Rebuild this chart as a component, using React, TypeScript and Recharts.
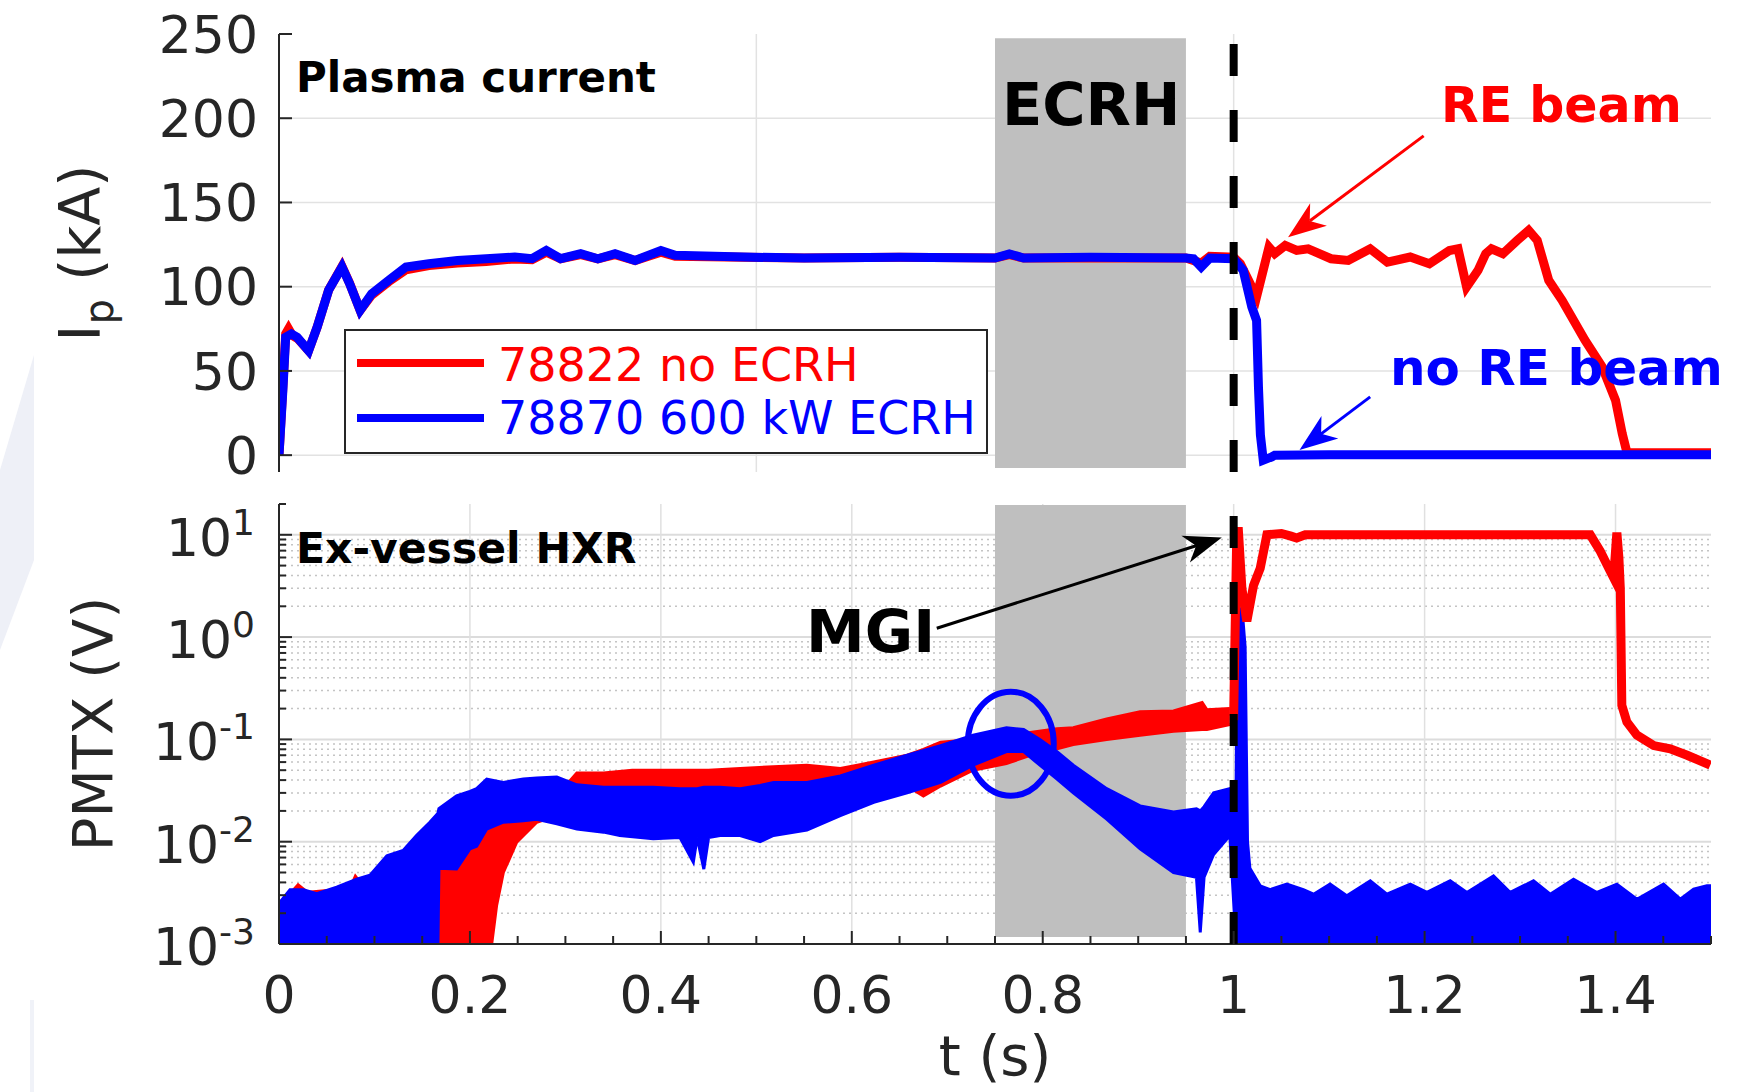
import React from 'react';
import { Area, ComposedChart, Line, ReferenceArea, ReferenceDot, ReferenceLine, XAxis, YAxis } from 'recharts';

const FONT = '"DejaVu Sans", sans-serif';
const RED = '#ff0000';
const BLUE = '#0000ff';
const INK = '#262626';

// plasma current Ip (kA) vs t (s)
const ipRed: number[][] = [
  [0, 0], [0.004, 40], [0.007, 72], [0.01, 75], [0.014, 71], [0.02, 69], [0.031, 62], [0.04, 76],
  [0.052, 98], [0.066, 112], [0.074, 102], [0.085, 86], [0.097, 95], [0.115, 103], [0.133, 110],
  [0.157, 112.5], [0.187, 114], [0.217, 115], [0.247, 116.5], [0.265, 116], [0.28, 120.5], [0.295, 116.5],
  [0.316, 119], [0.334, 116.5], [0.352, 119], [0.373, 115.5], [0.4, 120.5], [0.415, 118], [0.487, 117.5],
  [0.55, 117], [0.65, 117.5], [0.75, 117], [0.765, 119], [0.78, 117], [0.85, 117], [0.95, 117],
  [0.966, 114], [0.975, 118], [1.0, 117.5], [1.007, 113.6], [1.024, 94], [1.037, 123.5], [1.043, 119.6],
  [1.054, 124.5], [1.066, 121.5], [1.078, 122.5], [1.102, 116.6], [1.12, 115.6], [1.143, 122.5],
  [1.161, 114.6], [1.185, 117.6], [1.205, 113.6], [1.226, 121.5], [1.235, 122.5], [1.244, 99.8],
  [1.256, 109.7], [1.264, 119.6], [1.27, 122.5], [1.282, 119.6], [1.297, 127.5], [1.309, 133.4],
  [1.318, 127.5], [1.33, 103.8], [1.344, 91.9], [1.368, 68.2], [1.386, 52.4], [1.4, 32.6], [1.407, 12.8],
  [1.412, 1.5], [1.45, 1.5], [1.5, 1.5],
];
const ipBlue: number[][] = [
  [0, 0], [0.004, 38], [0.007, 70], [0.013, 72], [0.019, 70], [0.031, 62], [0.04, 76], [0.052, 98],
  [0.066, 111.7], [0.074, 101.8], [0.085, 86], [0.097, 95.8], [0.115, 103.8], [0.133, 111.7], [0.157, 113.6],
  [0.187, 115.6], [0.217, 116.6], [0.247, 117.6], [0.265, 116.6], [0.28, 121.5], [0.295, 116.6],
  [0.316, 119.6], [0.334, 116.6], [0.352, 119.6], [0.373, 115.6], [0.4, 121.5], [0.415, 118.6],
  [0.487, 117.6], [0.55, 117], [0.65, 117.5], [0.75, 117], [0.765, 119.5], [0.78, 117], [0.85, 117.5],
  [0.95, 117], [0.958, 116.5], [0.966, 111.7], [0.975, 117], [1.0, 116.6], [1.01, 109.7], [1.019, 88],
  [1.024, 80], [1.026, 40], [1.028, 12], [1.031, -3], [1.04, -1], [1.043, 0], [1.1, 0.3], [1.3, 0.3], [1.5, 0.3],
];

// PMTX (V): noisy signal drawn as [t, low, high] envelope
const hxrBlue: number[][] = [
  [0, 0.001, 0.0025], [0.0115, 0.001, 0.0034], [0.0255, 0.001, 0.0034], [0.0395, 0.001, 0.0031],
  [0.0604, 0.001, 0.0036], [0.0814, 0.001, 0.0043], [0.0953, 0.001, 0.0047], [0.113, 0.001, 0.0073],
  [0.13, 0.001, 0.0082], [0.144, 0.001, 0.0115], [0.158, 0.001, 0.0155], [0.1665, 0.001, 0.019],
  [0.1675, 0.0055, 0.021], [0.186, 0.0054, 0.028], [0.2, 0.0085, 0.031], [0.207, 0.009, 0.033],
  [0.2176, 0.0133, 0.041], [0.235, 0.0155, 0.038], [0.256, 0.016, 0.041], [0.27, 0.0166, 0.042],
  [0.291, 0.015, 0.043], [0.312, 0.0133, 0.036], [0.34, 0.0124, 0.034], [0.357, 0.0115, 0.034],
  [0.392, 0.0107, 0.034], [0.42, 0.011, 0.033], [0.434, 0.0063, 0.033], [0.438, 0.011, 0.033],
  [0.445, 0.0054, 0.034], [0.45, 0.011, 0.034], [0.462, 0.0115, 0.034], [0.483, 0.0115, 0.033],
  [0.504, 0.01, 0.0355], [0.518, 0.0115, 0.038], [0.553, 0.013, 0.038], [0.588, 0.018, 0.044],
  [0.623, 0.0243, 0.056], [0.658, 0.03, 0.07], [0.693, 0.038, 0.087], [0.727, 0.056, 0.11],
  [0.762, 0.076, 0.13], [0.78, 0.076, 0.125], [0.797, 0.056, 0.1], [0.815, 0.041, 0.076],
  [0.832, 0.03, 0.056], [0.867, 0.0166, 0.033], [0.902, 0.0085, 0.0224], [0.937, 0.005, 0.0195],
  [0.961, 0.0045, 0.021], [0.965, 0.0013, 0.02], [0.969, 0.0045, 0.022], [0.979, 0.0075, 0.03],
  [0.996, 0.0115, 0.033], [1.0025, 0.001, 0.03], [1.004, 0.001, 2.0], [1.009, 0.001, 1.8],
  [1.012, 0.001, 0.8], [1.0145, 0.001, 0.01], [1.017, 0.001, 0.0055], [1.0278, 0.001, 0.0037],
  [1.0383, 0.001, 0.0034], [1.0557, 0.001, 0.00385], [1.073, 0.001, 0.0034], [1.0837, 0.001, 0.00307],
  [1.101, 0.001, 0.00385], [1.1185, 0.001, 0.00296], [1.1431, 0.001, 0.00415], [1.1605, 0.001, 0.00307],
  [1.185, 0.001, 0.00385], [1.2024, 0.001, 0.00319], [1.2268, 0.001, 0.00415], [1.2443, 0.001, 0.00319],
  [1.2722, 0.001, 0.00464], [1.2897, 0.001, 0.00319], [1.3141, 0.001, 0.00415], [1.3316, 0.001, 0.00307],
  [1.356, 0.001, 0.0043], [1.3805, 0.001, 0.00319], [1.4014, 0.001, 0.00385], [1.4224, 0.001, 0.00274],
  [1.4503, 0.001, 0.00385], [1.4678, 0.001, 0.00274], [1.4818, 0.001, 0.00344], [1.4957, 0.001, 0.0037],
  [1.5, 0.001, 0.0037],
];
const hxrRed: number[][] = [
  [0, 0.001, 0.0024], [0.0115, 0.001, 0.0031], [0.02, 0.001, 0.0038], [0.03, 0.001, 0.0032],
  [0.06, 0.001, 0.0034], [0.075, 0.001, 0.0036], [0.08, 0.001, 0.0046], [0.085, 0.001, 0.0040],
  [0.0953, 0.001, 0.0044], [0.13, 0.001, 0.006], [0.166, 0.001, 0.006], [0.186, 0.001, 0.0065],
  [0.2, 0.001, 0.01], [0.215, 0.001, 0.014], [0.2228, 0.001, 0.016], [0.228, 0.0024, 0.017],
  [0.235, 0.005, 0.018], [0.249, 0.0099, 0.02], [0.27, 0.0155, 0.022], [0.28, 0.0166, 0.024],
  [0.3, 0.02, 0.035], [0.312, 0.025, 0.047], [0.34, 0.03, 0.047], [0.37, 0.03, 0.05], [0.4, 0.03, 0.05],
  [0.45, 0.03, 0.05], [0.483, 0.03, 0.052], [0.553, 0.032, 0.056], [0.588, 0.033, 0.052],
  [0.623, 0.035, 0.06], [0.658, 0.035, 0.07], [0.675, 0.028, 0.08], [0.693, 0.035, 0.094],
  [0.727, 0.05, 0.1], [0.762, 0.058, 0.1], [0.787, 0.07, 0.117], [0.815, 0.081, 0.127],
  [0.832, 0.089, 0.13], [0.867, 0.1, 0.158], [0.902, 0.11, 0.186], [0.937, 0.12, 0.19],
  [0.967, 0.125, 0.23], [0.972, 0.125, 0.195], [0.996, 0.14, 0.2],
];
// red trace after the MGI (runaway beam)
const hxrRedBeam: number[][] = [
  [0.996, 0.17], [1.0, 0.17], [1.0033, 10.8], [1.005, 10.8], [1.0086, 3.0], [1.0138, 1.43], [1.0208, 3.2],
  [1.0278, 4.7], [1.0348, 10], [1.05, 10.3], [1.06, 9.7], [1.066, 9.3], [1.075, 10], [1.2, 10], [1.3735, 10],
  [1.384, 6.9], [1.3945, 4.4], [1.398, 3.8], [1.4014, 10.5], [1.4035, 6], [1.405, 3.0], [1.4066, 0.215],
  [1.4119, 0.148], [1.4224, 0.11], [1.44, 0.087], [1.4573, 0.081], [1.475, 0.07], [1.4992, 0.056],
];

const topXTicks = [0, 0.1, 0.2, 0.3, 0.4, 0.5, 0.6, 0.7, 0.8, 0.9, 1, 1.1, 1.2, 1.3, 1.4, 1.5];
const topXMajor = [0, 0.5, 1, 1.5];
const topYTicks = [0, 50, 100, 150, 200, 250];
const topGridX = [0.5, 1];
const topGridY = [0, 50, 100, 150, 200];
const bottomXTicks = [
  0, 0.05, 0.1, 0.15, 0.2, 0.25, 0.3, 0.35, 0.4, 0.45, 0.5, 0.55, 0.6, 0.65, 0.7, 0.75, 0.8, 0.85, 0.9, 0.95,
  1, 1.05, 1.1, 1.15, 1.2, 1.25, 1.3, 1.35, 1.4, 1.45, 1.5,
];
const bottomXLabels = [0, 0.2, 0.4, 0.6, 0.8, 1, 1.2, 1.4];
const logDecades = [0.001, 0.01, 0.1, 1, 10];
const logMinor = [
  0.002, 0.003, 0.004, 0.005, 0.006, 0.007, 0.008, 0.009, 0.02, 0.03, 0.04, 0.05, 0.06, 0.07, 0.08, 0.09,
  0.2, 0.3, 0.4, 0.5, 0.6, 0.7, 0.8, 0.9, 2, 3, 4, 5, 6, 7, 8, 9, 20,
];
const ecrhWindow = [0.75, 0.95];
const mgiTime = 1;

type Row = { t: number; [key: string]: any };

function buildRows(parts: { key: string; pts: number[][] }[]): Row[] {
  const map = new Map<number, Row>();
  parts.forEach(({ key, pts }) => {
    pts.forEach((p) => {
      const row = map.get(p[0]) ?? { t: p[0] };
      row[key] = p.length === 3 ? [p[1], p[2]] : p[1];
      map.set(p[0], row);
    });
  });
  return [...map.values()].sort((a, b) => a.t - b.t);
}

const topRows = buildRows([
  { key: 'red', pts: ipRed },
  { key: 'blue', pts: ipBlue },
]);
const bottomRows = buildRows([
  { key: 'redBand', pts: hxrRed },
  { key: 'blueBand', pts: hxrBlue },
  { key: 'redBeam', pts: hxrRedBeam },
]);

const has = (list: number[], v: number) => list.some((l) => Math.abs(l - v) < 1e-9);
const axisLine = { stroke: INK, strokeWidth: 2 };

function xTick(side: 'top' | 'bottom', major: number[], labels: number[]) {
  return (p: any) => {
    const v = p.payload.value;
    const len = has(major, v) ? 13 : 8;
    const dir = side === 'bottom' ? -1 : 1;
    return (
      <g>
        <line x1={p.x} x2={p.x} y1={p.y} y2={p.y + dir * len} stroke={INK} strokeWidth={2} />
        {side === 'bottom' && has(labels, v) && (
          <text x={p.x} y={p.y + 69} textAnchor="middle" fontFamily={FONT} fontSize={52} fill={INK}>
            {String(v)}
          </text>
        )}
      </g>
    );
  };
}

function yTick(side: 'left' | 'right', major: number[], label: 'plain' | 'log' | 'none') {
  return (p: any) => {
    const v = p.payload.value;
    const len = has(major, v) ? 13 : 7;
    const dir = side === 'left' ? 1 : -1;
    let text: React.ReactNode = null;
    if (side === 'left' && label === 'plain') {
      text = (
        <text x={p.x - 21} y={p.y} dy="0.36em" textAnchor="end" fontFamily={FONT} fontSize={52} fill={INK}>
          {String(v)}
        </text>
      );
    }
    if (side === 'left' && label === 'log' && has(major, v)) {
      const exp = Math.round(Math.log10(v));
      text = (
        <text x={p.x - 24} y={p.y + 21} textAnchor="end" fontFamily={FONT} fontSize={52} fill={INK}>
          <tspan>10</tspan>
          <tspan fontSize={36} dy={-21}>{String(exp)}</tspan>
        </text>
      );
    }
    return (
      <g>
        <line x1={p.x} x2={p.x + dir * len} y1={p.y} y2={p.y} stroke={INK} strokeWidth={2} />
        {text}
      </g>
    );
  };
}

function arrowShape(color: string, width: number) {
  return (p: any) => {
    const { x1, y1, x2, y2 } = p;
    const dx = x2 - x1;
    const dy = y2 - y1;
    const len = Math.hypot(dx, dy) || 1;
    const ux = dx / len;
    const uy = dy / len;
    const L = 38;
    const W = 14;
    const N = 27;
    const bx = x2 - ux * L;
    const by = y2 - uy * L;
    const nx = x2 - ux * N;
    const ny = y2 - uy * N;
    const pts = [
      [x2, y2],
      [bx - uy * W, by + ux * W],
      [nx, ny],
      [bx + uy * W, by - ux * W],
    ];
    return (
      <g>
        <line x1={x1} y1={y1} x2={nx} y2={ny} stroke={color} strokeWidth={width} />
        <polygon points={pts.map((q) => q.join(',')).join(' ')} fill={color} />
      </g>
    );
  };
}

function TopChart() {
  return (
    <ComposedChart width={1762} height={500} data={topRows} margin={{ top: 34, right: 51, bottom: 28, left: 79 }}>
      <XAxis dataKey="t" type="number" domain={[0, 1.5]} ticks={topXTicks} interval={0} height={0} tickSize={0}
        tickMargin={0} axisLine={axisLine} tickLine={false} tick={xTick('bottom', topXMajor, [])} allowDataOverflow />
      <XAxis xAxisId="top" orientation="top" dataKey="t" type="number" domain={[0, 1.5]} ticks={topXTicks}
        interval={0} height={0} tickSize={0} tickMargin={0} axisLine={axisLine} tickLine={false}
        tick={xTick('top', topXMajor, [])} allowDataOverflow />
      <YAxis type="number" domain={[-10, 250]} ticks={topYTicks} interval={0} width={200} tickSize={0}
        tickMargin={0} axisLine={axisLine} tickLine={false} tick={yTick('left', topYTicks, 'plain')} allowDataOverflow />
      <YAxis yAxisId="right" orientation="right" type="number" domain={[-10, 250]} ticks={topYTicks} interval={0}
        width={0} tickSize={0} tickMargin={0} axisLine={axisLine} tickLine={false}
        tick={yTick('right', topYTicks, 'none')} allowDataOverflow />

      {topGridY.map((v) => (
        <ReferenceLine key={`gy${v}`} y={v} stroke="#e2e2e2" strokeWidth={1.5} zIndex={-90} />
      ))}
      {topGridX.map((v) => (
        <ReferenceLine key={`gx${v}`} x={v} stroke="#e2e2e2" strokeWidth={1.5} zIndex={-90} />
      ))}
      <ReferenceArea x1={ecrhWindow[0]} x2={ecrhWindow[1]} y1={-7.6} y2={247.5} fill="#bfbfbf" fillOpacity={1}
        stroke="none" zIndex={-50} />

      <Line dataKey="red" type="linear" stroke={RED} strokeWidth={9} dot={false} activeDot={false} connectNulls
        isAnimationActive={false} />
      <Line dataKey="blue" type="linear" stroke={BLUE} strokeWidth={9} dot={false} activeDot={false} connectNulls
        isAnimationActive={false} />

      <ReferenceLine segment={[{ x: mgiTime, y: -10 }, { x: mgiTime, y: 250 }]} stroke="#000" strokeWidth={8}
        strokeDasharray="32 34" zIndex={1500} />
      <ReferenceLine segment={[{ x: 1.199, y: 189.5 }, { x: 1.057, y: 129.4 }]} shape={arrowShape(RED, 3)}
        zIndex={1600} />
      <ReferenceLine segment={[{ x: 1.143, y: 34.6 }, { x: 1.069, y: 3 }]} shape={arrowShape(BLUE, 3)}
        zIndex={1600} />
    </ComposedChart>
  );
}

function BottomChart() {
  return (
    <ComposedChart width={1762} height={612} data={bottomRows} margin={{ top: 24, right: 51, bottom: 0, left: 79 }}>
      <XAxis dataKey="t" type="number" domain={[0, 1.5]} ticks={bottomXTicks} interval={0} height={148}
        tickSize={0} tickMargin={0} axisLine={axisLine} tickLine={false}
        tick={xTick('bottom', bottomXLabels, bottomXLabels)} allowDataOverflow />
      <XAxis xAxisId="top" orientation="top" dataKey="t" type="number" domain={[0, 1.5]} ticks={bottomXTicks}
        interval={0} height={0} tickSize={0} tickMargin={0} axisLine={axisLine} tickLine={false}
        tick={xTick('top', bottomXLabels, [])} allowDataOverflow />
      <YAxis type="number" scale="log" domain={[0.001, 20]} ticks={[...logDecades, ...logMinor]} interval={0}
        width={200} tickSize={0} tickMargin={0} axisLine={axisLine} tickLine={false}
        tick={yTick('left', logDecades, 'log')} allowDataOverflow />
      <YAxis yAxisId="right" orientation="right" type="number" scale="log" domain={[0.001, 20]}
        ticks={[...logDecades, ...logMinor]} interval={0} width={0} tickSize={0} tickMargin={0} axisLine={axisLine}
        tickLine={false} tick={yTick('right', logDecades, 'none')} allowDataOverflow />

      {logMinor.filter((v) => v < 20).map((v) => (
        <ReferenceLine key={`mn${v}`} y={v} stroke="#c4c4c4" strokeWidth={1.5} strokeDasharray="2 4" zIndex={-95} />
      ))}
      {logDecades.map((v) => (
        <ReferenceLine key={`dg${v}`} y={v} stroke="#dcdcdc" strokeWidth={2} zIndex={-90} />
      ))}
      {bottomXLabels.map((v) => (
        <ReferenceLine key={`gx${v}`} x={v} stroke="#e0e0e0" strokeWidth={1.5} zIndex={-90} />
      ))}
      <ReferenceArea x1={ecrhWindow[0]} x2={ecrhWindow[1]} y1={0.00117} y2={19.6} fill="#bfbfbf" fillOpacity={1}
        stroke="none" zIndex={-50} />

      <Area dataKey="redBand" type="linear" stroke={RED} strokeWidth={3} fill={RED} fillOpacity={1} connectNulls
        dot={false} activeDot={false} isAnimationActive={false} />
      <Area dataKey="blueBand" type="linear" stroke={BLUE} strokeWidth={3} fill={BLUE} fillOpacity={1} connectNulls
        dot={false} activeDot={false} isAnimationActive={false} />
      <Line dataKey="redBeam" type="linear" stroke={RED} strokeWidth={9} dot={false} activeDot={false} connectNulls
        isAnimationActive={false} />

      <ReferenceLine segment={[{ x: mgiTime, y: 0.001 }, { x: mgiTime, y: 20 }]} stroke="#000" strokeWidth={8}
        strokeDasharray="32 34" zIndex={1500} />
      <ReferenceLine segment={[{ x: 0.689, y: 1.22 }, { x: 0.9876, y: 9.4 }]} shape={arrowShape('#000', 3)}
        zIndex={1600} />
      <ReferenceDot x={0.7665} y={0.0907} r={45} zIndex={1600}
        shape={(p: any) => (
          <ellipse cx={p.cx} cy={p.cy} rx={43} ry={52} fill="none" stroke={BLUE} strokeWidth={6} />
        )} />
    </ComposedChart>
  );
}

export default function App() {
  const txt = { fontFamily: FONT } as const;
  return (
    <div style={{ position: 'absolute', left: 0, top: 0, width: 1762, height: 1092, background: '#fff', overflow: 'hidden' }}>
      <svg width={1762} height={1092} style={{ position: 'absolute', left: 0, top: 0 }}>
        <polygon points="0,470 34,355 34,560 0,650" fill="#eef0f7" />
        <line x1={32} x2={32} y1={1000} y2={1092} stroke="#f0f2f8" strokeWidth={4} />
      </svg>
      <div style={{ position: 'absolute', left: 0, top: 0 }}>
        <TopChart />
      </div>
      <div style={{ position: 'absolute', left: 0, top: 480 }}>
        <BottomChart />
      </div>
      <svg width={1762} height={1092} style={{ position: 'absolute', left: 0, top: 0, pointerEvents: 'none' }}>
        <text {...txt} x={296} y={92} fontSize={42} fontWeight="bold" fill="#000">Plasma current</text>
        <text {...txt} x={1002} y={125} fontSize={59} fontWeight="bold" fill="#000">ECRH</text>
        <text {...txt} x={1441} y={122} fontSize={49} fontWeight="bold" fill={RED}>RE beam</text>
        <text {...txt} x={1390} y={385} fontSize={50} fontWeight="bold" fill={BLUE}>no RE beam</text>
        <text {...txt} x={296} y={563} fontSize={42.5} fontWeight="bold" fill="#000">Ex-vessel HXR</text>
        <text {...txt} x={806} y={652} fontSize={59} fontWeight="bold" fill="#000">MGI</text>

        <text {...txt} transform="translate(100,253) rotate(-90)" textAnchor="middle" fontSize={57} fill={INK}>
          <tspan>I</tspan>
          <tspan fontSize={40} dy={13}>p</tspan>
          <tspan dy={-13}> (kA)</tspan>
        </text>
        <text {...txt} transform="translate(112,724) rotate(-90)" textAnchor="middle" fontSize={56} fill={INK}>
          PMTX (V)
        </text>
        <text {...txt} x={995} y={1075} textAnchor="middle" fontSize={56} fill={INK}>t (s)</text>

        <rect x={345} y={330} width={642} height={123} fill="#fff" stroke={INK} strokeWidth={2} />
        <line x1={357} x2={484} y1={363} y2={363} stroke={RED} strokeWidth={8} />
        <text {...txt} x={498} y={381} fontSize={46} fill={RED}>78822 no ECRH</text>
        <line x1={357} x2={484} y1={418} y2={418} stroke={BLUE} strokeWidth={8} />
        <text {...txt} x={498} y={434} fontSize={46} fill={BLUE}>78870 600 kW ECRH</text>
      </svg>
    </div>
  );
}
